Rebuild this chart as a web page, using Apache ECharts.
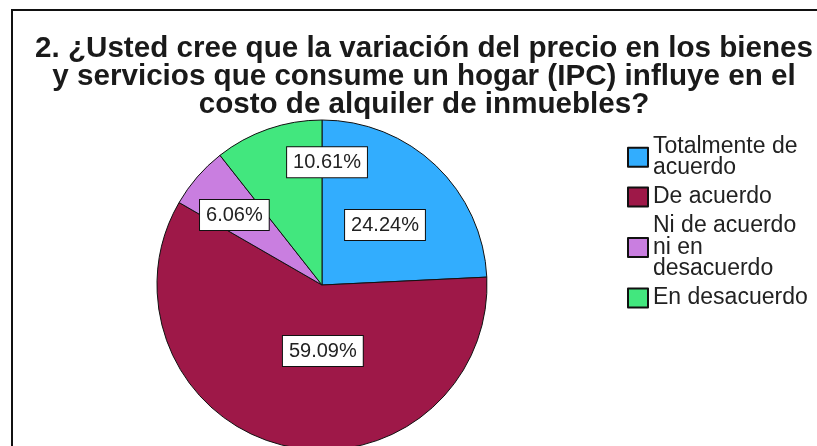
<!DOCTYPE html>
<html>
<head>
<meta charset="utf-8">
<script src="https://cdn.jsdelivr.net/npm/echarts@6/dist/echarts.min.js"></script>
<style>
  html, body { margin: 0; padding: 0; background: #fff; }
  #chart { width: 817px; height: 446px; }
</style>
</head>
<body>
<div id="chart"></div>
<script>
// categories and percentages
const categories = ['Totalmente de acuerdo', 'De acuerdo', 'Ni de acuerdo ni en desacuerdo', 'En desacuerdo']
const legendLabels = ['Totalmente de\nacuerdo', 'De acuerdo', 'Ni de acuerdo\nni en\ndesacuerdo', 'En desacuerdo']
const percents = [24.24, 59.09, 6.06, 10.61]
const colors = ['#32ADFE', '#9E1848', '#C97EE0', '#42E77E']

// SPSS puts the slice labels a bit off the mid radius, nudge them
const labelNudge = [[4, 3], [21, -16], [-23, -13], [33, -41]]

const chart = echarts.init(document.getElementById('chart'), null, { renderer: 'canvas' })

chart.setOption({
  backgroundColor: '#fff',
  animation: false,
  title: {
    text: '2. ¿Usted cree que la variación del precio en los bienes\ny servicios que consume un hogar (IPC) influye en el\ncosto de alquiler de inmuebles?',
    left: 419,
    top: 30,
    textAlign: 'center',
    textStyle: {
      fontFamily: 'Liberation Sans',
      fontSize: 29.6,
      fontWeight: 'bold',
      lineHeight: 28,
      color: '#1a1a1a'
    }
  },
  legend: {
    orient: 'vertical',
    left: 622,
    top: 130,
    itemWidth: 20,
    itemHeight: 19,
    itemGap: 6,
    icon: 'rect',
    data: categories,
    formatter: (name) => legendLabels[categories.indexOf(name)],
    textStyle: {
      fontFamily: 'Liberation Sans',
      fontSize: 23,
      lineHeight: 21.5,
      color: '#222'
    }
  },
  graphic: [
    {
      // frame of the original output
      type: 'rect',
      shape: { x: 12, y: 10, width: 900, height: 600 },
      style: { fill: null, stroke: '#111', lineWidth: 2 },
      silent: true
    }
  ],
  series: [
    {
      type: 'pie',
      center: [322, 285],
      radius: 165,
      startAngle: 90,
      clockwise: true,
      avoidLabelOverlap: false,
      data: categories.map((name, i) => ({
        name: name,
        value: percents[i],
        itemStyle: { color: colors[i] }
      })),
      itemStyle: {
        borderColor: '#111',
        borderWidth: 1
      },
      label: {
        show: true,
        position: 'inside',
        formatter: (p) => p.value.toFixed(2) + '%',
        fontFamily: 'Liberation Sans',
        fontSize: 20,
        lineHeight: 22,
        color: '#222',
        backgroundColor: '#fff',
        borderColor: '#111',
        borderWidth: 1,
        padding: [4, 6]
      },
      labelLine: { show: false },
      labelLayout: (params) => ({
        dx: labelNudge[params.dataIndex][0],
        dy: labelNudge[params.dataIndex][1] - 1
      }),
      emphasis: { disabled: true }
    }
  ]
})
</script>
</body>
</html>
